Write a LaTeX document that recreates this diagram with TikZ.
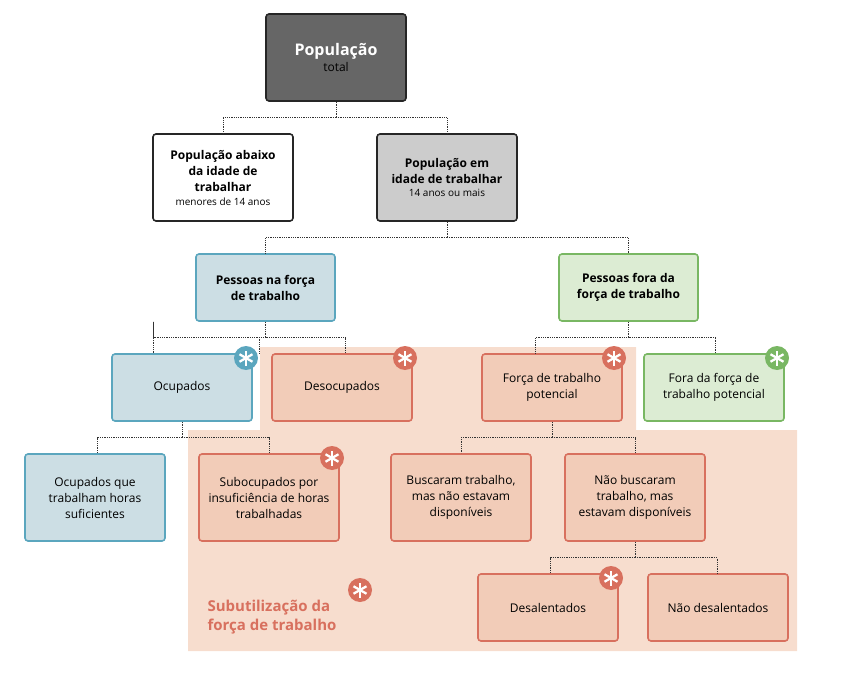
\documentclass[tikz,border=0pt]{standalone}
\usepackage{fontspec}
\setmainfont{Open Sans}
\begin{document}
\begin{tikzpicture}[x=1pt,y=-1pt,
 bx/.style={draw, line width=1.6pt, rounded corners=3pt, align=center, inner sep=0pt, font=\fontsize{12}{16}\selectfont},
 gray/.style={bx, draw=black!85, fill=#1},
 blu/.style={bx, draw=bluD, fill=bluF},
 sal/.style={bx, draw=salD, fill=salF},
 grn/.style={bx, draw=grnD, fill=grnF},
 con/.style={densely dotted, line width=0.8pt, black!80},
 star/.style={circle, fill=#1, minimum size=24pt, inner sep=0pt}]
\definecolor{bluD}{HTML}{5BA6BE}\definecolor{bluF}{HTML}{CCDEE4}
\definecolor{salD}{HTML}{D8705E}\definecolor{salF}{HTML}{F2CCB8}
\definecolor{grnD}{HTML}{79B763}\definecolor{grnF}{HTML}{DCECD3}
\definecolor{bgS}{HTML}{F7DDCE}
\useasboundingbox (0,0) rectangle (844,674);
\fill[bgS] (260,347) -- (636,347) -- (636,430) -- (797,430) -- (797,651) -- (188,651) -- (188,430) -- (260,430) -- cycle;
\newcommand\bxat[6]{\node[#1, minimum width=#4-#2, minimum height=#5-#3] (#6) at ({(#2+#4)/2},{(#3+#5)/2})}
\bxat{gray=black!60}{266}{14}{406}{101}{pt} {\color{white}\fontsize{16}{24}\selectfont\bfseries População\\total};
\bxat{gray=white}{153}{134}{293}{221}{ab} {\textbf{População abaixo}\\\textbf{da idade de}\\\textbf{trabalhar}\\[-2pt]{\fontsize{10}{13}\selectfont menores de 14 anos}};
\bxat{gray=black!20}{377}{134}{517}{221}{id} {\textbf{População em}\\\textbf{idade de trabalhar}\\[-3pt]{\fontsize{10}{13}\selectfont 14 anos ou mais}};
\bxat{blu}{196}{254}{335}{321}{nf} {\textbf{Pessoas na força}\\\textbf{de trabalho}};
\bxat{grn}{559}{254}{698}{321}{ff} {\textbf{Pessoas fora da}\\\textbf{força de trabalho}};
\bxat{blu}{112}{354}{252}{421}{oc} {Ocupados};
\bxat{sal}{272}{354}{412}{421}{de} {Desocupados};
\bxat{sal}{482}{354}{622}{421}{fp} {Força de trabalho\\potencial};
\bxat{grn}{644}{354}{784}{421}{fo} {Fora da força de\\trabalho potencial};
\bxat{blu}{25}{454}{165}{541}{oq} {Ocupados que\\trabalham horas\\suficientes};
\bxat{sal}{199}{454}{339}{541}{su} {Subocupados por\\insuficiência de horas\\trabalhadas};
\bxat{sal}{391}{454}{531}{541}{bu} {Buscaram trabalho,\\mas não estavam\\disponíveis};
\bxat{sal}{565}{454}{705}{541}{nb} {Não buscaram\\trabalho, mas\\estavam disponíveis};
\bxat{sal}{478}{574}{618}{641}{ds} {Desalentados};
\bxat{sal}{648}{574}{788}{641}{nd} {Não desalentados};
\node[align=left, anchor=west, text=salD, font=\fontsize{15}{19}\selectfont\bfseries] (lab) at (204,617) {Subutilização da\\força de trabalho};
% connectors
\draw[con] (pt.south) -- ++(0,16) -| (ab.north);
\draw[con] (pt.south) ++(0,16) -| (id.north);
\draw[con] (id.south) -- ++(0,16) -| (nf.north);
\draw[con] (id.south) ++(0,16) -| (ff.north);
\draw[con] (nf.south) -- ++(0,16) -| ([xshift=-112pt]nf.south) coordinate (c1) |- (c1) -- (c1|-oc.north);
\draw[con] (nf.south) ++(0,16) -| ([xshift=-83pt]de.north);
\draw[con] (nf.south) ++(0,16) -| ([xshift=3pt]de.north);
\draw[con] (ff.south) -- ++(0,16) -| ([xshift=-17pt]fp.north);
\draw[con] (ff.south) ++(0,16) -| ([xshift=1pt]fo.north);
\draw[con] (oc.south) -- ++(0,16) -| ([xshift=2pt]oq.north);
\draw[con] (oc.south) ++(0,16) -| (su.north);
\draw[con] (fp.south) -- ++(0,16) -| (bu.north);
\draw[con] (fp.south) ++(0,16) -| ([xshift=0pt]nb.north);
\draw[con] (nb.south) -- ++(0,16) -| ([xshift=2pt]ds.north);
\draw[con] (nb.south) ++(0,16) -| ([xshift=-1pt]nd.north);
% stars
\foreach \n/\x/\y/\c in {s1/246/358/bluD, s2/405/358/salD, s3/614/358/salD, s4/777/358/grnD, s5/332/458/salD, s6/611/578/salD, s7/360/590/salD}{
 \node[star=\c] (\n) at (\x,\y) {};
 \foreach \a in {90,30,-30} \draw[white, line width=2.3pt] (\n.center) ++(\a:7.5) -- ++(\a+180:15);
}
\end{tikzpicture}
\end{document}
